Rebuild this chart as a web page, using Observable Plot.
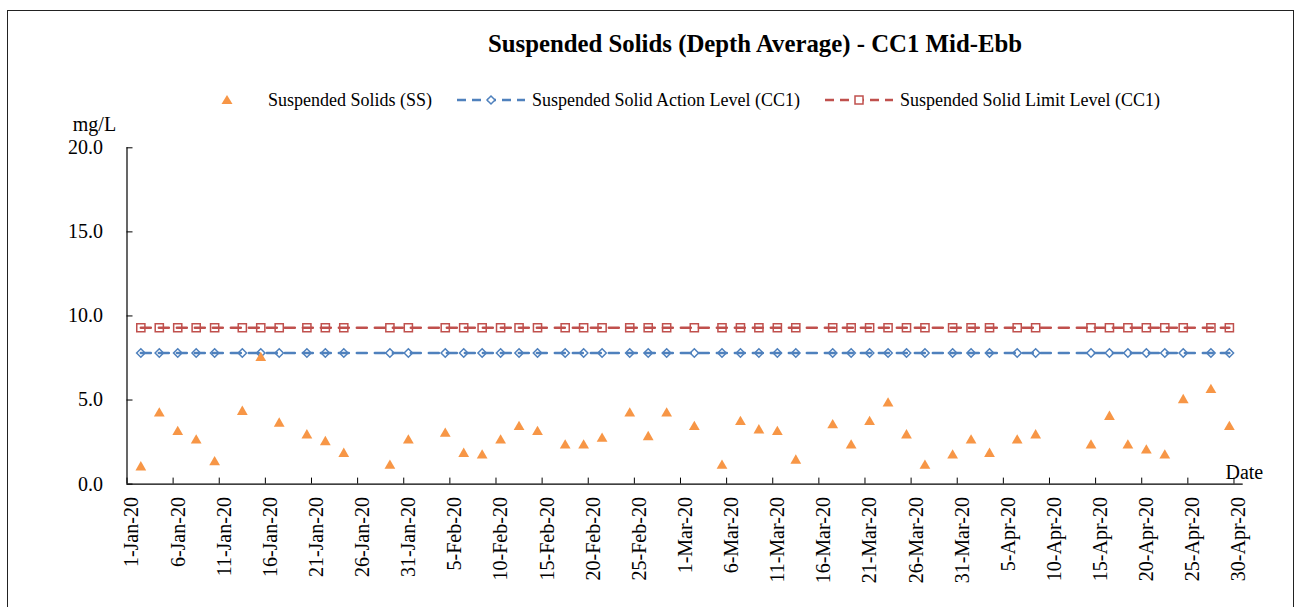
<!DOCTYPE html>
<html>
<head>
<meta charset="utf-8">
<script src="https://cdn.jsdelivr.net/npm/d3@7"></script>
<script src="https://cdn.jsdelivr.net/npm/@observablehq/plot@0.6"></script>
<style>
  html, body { margin: 0; padding: 0; background: #fff; }
  #wrap { position: relative; width: 1300px; height: 607px; overflow: hidden;
          font-family: "Liberation Serif", "Times New Roman", serif; color: #000; background: #fff; }
  #frame { position: absolute; left: 7px; top: 10px; width: 1285px; height: 700px; border: 1px solid #222; }
  #title { position: absolute; left: 405px; width: 700px; top: 32px; text-align: center;
           font-weight: bold; font-size: 24.8px; line-height: 24px; white-space: nowrap; }
  #legend { position: absolute; left: 193px; top: 89.5px; height: 20px; display: flex; align-items: center;
            font-size: 18px; line-height: 20px; white-space: nowrap; }
  #legend .item { display: flex; align-items: center; margin-right: 25px; }
  #legend svg { display: block; margin-right: 7px; }
  #chart { position: absolute; left: 0; top: 113px; }
</style>
</head>
<body>
<div id="wrap">
  <div id="frame"></div>
  <div id="title">Suspended Solids (Depth Average) - CC1 Mid-Ebb</div>
  <div id="legend"></div>
  <div id="chart"></div>
</div>
<script>
// ---- data ----
const sampleDates = [
  "2020-01-02","2020-01-04","2020-01-06","2020-01-08","2020-01-10","2020-01-13","2020-01-15","2020-01-17",
  "2020-01-20","2020-01-22","2020-01-24","2020-01-29","2020-01-31","2020-02-04","2020-02-06","2020-02-08",
  "2020-02-10","2020-02-12","2020-02-14","2020-02-17","2020-02-19","2020-02-21","2020-02-24","2020-02-26",
  "2020-02-28","2020-03-02","2020-03-05","2020-03-07","2020-03-09","2020-03-11","2020-03-13","2020-03-17",
  "2020-03-19","2020-03-21","2020-03-23","2020-03-25","2020-03-27","2020-03-30","2020-04-01","2020-04-03",
  "2020-04-06","2020-04-08","2020-04-14","2020-04-16","2020-04-18","2020-04-20","2020-04-22","2020-04-24",
  "2020-04-27","2020-04-29"
];
const ssValues = [
  1.0, 4.2, 3.1, 2.6, 1.3, 4.3, 7.5, 3.6,
  2.9, 2.5, 1.8, 1.1, 2.6, 3.0, 1.8, 1.7,
  2.6, 3.4, 3.1, 2.3, 2.3, 2.7, 4.2, 2.8,
  4.2, 3.4, 1.1, 3.7, 3.2, 3.1, 1.4, 3.5,
  2.3, 3.7, 4.8, 2.9, 1.1, 1.7, 2.6, 1.8,
  2.6, 2.9, 2.3, 4.0, 2.3, 2.0, 1.7, 5.0,
  5.6, 3.4
];
const actionLevel = 7.8;
const limitLevel = 9.3;
const xStart = "2020-01-01";
const xEnd = "2020-05-01";
const tickDates = [
  "2020-01-01","2020-01-06","2020-01-11","2020-01-16","2020-01-21","2020-01-26","2020-01-31",
  "2020-02-05","2020-02-10","2020-02-15","2020-02-20","2020-02-25","2020-03-01","2020-03-06",
  "2020-03-11","2020-03-16","2020-03-21","2020-03-26","2020-03-31","2020-04-05","2020-04-10",
  "2020-04-15","2020-04-20","2020-04-25","2020-04-30"
];
const yTicks = [0, 5, 10, 15, 20];
const seriesNames = ["Suspended Solids (SS)", "Suspended Solid Action Level (CC1)", "Suspended Solid Limit Level (CC1)"];

// ---- styles ----
const orange = "#F79646", blue = "#4F81BD", red = "#C0504D";

// ---- legend ----
const legend = document.getElementById("legend");
const icons = [
  `<svg width="68" height="20"><path d="M34,5 L39.5,14 L28.5,14 Z" fill="${orange}"/></svg>`,
  `<svg width="68" height="20"><line x1="0" y1="10" x2="68" y2="10" stroke="${blue}" stroke-width="2.5" stroke-dasharray="9,6"/><path d="M34,6 L38,10 L34,14 L30,10 Z" fill="#fff" stroke="${blue}" stroke-width="1.5"/></svg>`,
  `<svg width="68" height="20"><line x1="0" y1="10" x2="68" y2="10" stroke="${red}" stroke-width="2.5" stroke-dasharray="9,6"/><rect x="30" y="6" width="8" height="8" fill="#fff" stroke="${red}" stroke-width="1.5"/></svg>`
];
seriesNames.forEach((name, i) => {
  const it = document.createElement("div");
  it.className = "item";
  it.innerHTML = icons[i] + `<span>${name}</span>`;
  legend.appendChild(it);
});

// ---- chart ----
const parse = d3.utcParse("%Y-%m-%d");
const rows = sampleDates.map((d, i) => ({
  date: d3.utcHour.offset(parse(d), 12),
  ss: ssValues[i],
  action: actionLevel,
  limit: limitLevel
}));

const chart = Plot.plot({
  width: 1300,
  height: 494,
  marginTop: 34.3,
  marginBottom: 123.4,
  marginLeft: 126.5,
  marginRight: 57.3,
  style: { fontFamily: "Liberation Serif", fontSize: "20px", color: "#000", background: "transparent" },
  x: { type: "utc", domain: [parse(xStart), parse(xEnd)] },
  y: { domain: [0, 20] },
  marks: [
    Plot.ruleY([0], { stroke: "#000", strokeWidth: 1.2 }),
    Plot.ruleX([parse(xStart)], { stroke: "#000", strokeWidth: 1.2 }),
    // inward tick marks
    Plot.axisX({ ticks: tickDates.map(parse), tickSize: 6, dy: -6, fill: "none", label: null, stroke: "#000" }),
    Plot.axisY({ ticks: yTicks, tickSize: 6, dx: 6, fill: "none", label: null, stroke: "#000" }),
    // tick labels
    Plot.axisX({ ticks: tickDates.map(parse), tickSize: 0, tickPadding: 13, tickRotate: -90,
                 tickFormat: d3.utcFormat("%-d-%b-%y"), fontSize: 20, label: null, dx: 5 }),
    Plot.axisY({ ticks: yTicks, tickSize: 0, tickPadding: 24, tickFormat: d => d.toFixed(1), fontSize: 20,
                 label: "mg/L", labelAnchor: "top", labelArrow: "none", labelOffset: 54.2 }),
    Plot.line(rows, { x: "date", y: "action", stroke: blue, strokeWidth: 2.5, strokeDasharray: "10,8" }),
    Plot.line(rows, { x: "date", y: "limit", stroke: red, strokeWidth: 2.5, strokeDasharray: "10,8" }),
    Plot.dot(rows, { x: "date", y: "action", symbol: "diamond2", r: 3.8, stroke: blue, strokeWidth: 1.5, fill: "none" }),
    Plot.dot(rows, { x: "date", y: "limit", symbol: "square", r: 4.6, stroke: red, strokeWidth: 1.5, fill: "none" }),
    Plot.dot(rows, { x: "date", y: "ss", symbol: "triangle", r: 4, fill: orange, stroke: "none" }),
    Plot.text(["Date"], { frameAnchor: "bottom-right", textAnchor: "end", lineAnchor: "bottom",
                          dx: 20, dy: -5.5, fontSize: 20, fill: "#000" })
  ]
});
document.getElementById("chart").appendChild(chart);
</script>
</body>
</html>
